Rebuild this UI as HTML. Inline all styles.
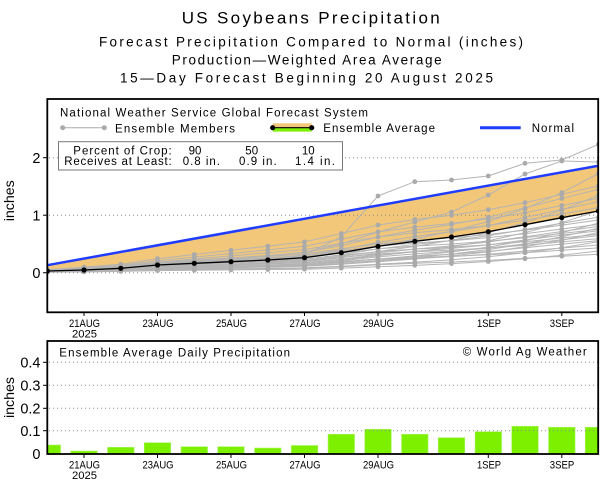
<!DOCTYPE html>
<html><head><meta charset="utf-8"><style>
html,body{margin:0;padding:0;background:#fff;}
svg{display:block;}
text{font-family:"Liberation Sans",sans-serif;fill:#000;}
</style></head><body>
<svg width="615" height="482" viewBox="0 0 615 482" xmlns="http://www.w3.org/2000/svg">
<defs>
<clipPath id="ct"><rect x="47" y="99" width="551.5" height="213.5"/></clipPath>
<clipPath id="cb"><rect x="47" y="341" width="551.5" height="113"/></clipPath>
<marker id="m30" markerUnits="userSpaceOnUse" markerWidth="1" markerHeight="1" refX="0" refY="0" style="overflow:visible"><ellipse rx="2.4" ry="8" fill="#aaa"/></marker>
<marker id="m35" markerUnits="userSpaceOnUse" markerWidth="1" markerHeight="1" refX="0" refY="0" style="overflow:visible"><ellipse rx="2.4" ry="6.86" fill="#aaa"/></marker>
<marker id="m40" markerUnits="userSpaceOnUse" markerWidth="1" markerHeight="1" refX="0" refY="0" style="overflow:visible"><ellipse rx="2.4" ry="6" fill="#aaa"/></marker>
<marker id="m45" markerUnits="userSpaceOnUse" markerWidth="1" markerHeight="1" refX="0" refY="0" style="overflow:visible"><ellipse rx="2.4" ry="5.33" fill="#aaa"/></marker>
<marker id="m50" markerUnits="userSpaceOnUse" markerWidth="1" markerHeight="1" refX="0" refY="0" style="overflow:visible"><ellipse rx="2.4" ry="4.8" fill="#aaa"/></marker>
<marker id="m52" markerUnits="userSpaceOnUse" markerWidth="1" markerHeight="1" refX="0" refY="0" style="overflow:visible"><ellipse rx="2.4" ry="4.62" fill="#aaa"/></marker>
<marker id="m55" markerUnits="userSpaceOnUse" markerWidth="1" markerHeight="1" refX="0" refY="0" style="overflow:visible"><ellipse rx="2.4" ry="4.36" fill="#aaa"/></marker>
<marker id="m60" markerUnits="userSpaceOnUse" markerWidth="1" markerHeight="1" refX="0" refY="0" style="overflow:visible"><ellipse rx="2.4" ry="4" fill="#aaa"/></marker>
<marker id="m62" markerUnits="userSpaceOnUse" markerWidth="1" markerHeight="1" refX="0" refY="0" style="overflow:visible"><ellipse rx="2.4" ry="3.87" fill="#aaa"/></marker>
<marker id="m65" markerUnits="userSpaceOnUse" markerWidth="1" markerHeight="1" refX="0" refY="0" style="overflow:visible"><ellipse rx="2.4" ry="3.69" fill="#aaa"/></marker>
<marker id="m68" markerUnits="userSpaceOnUse" markerWidth="1" markerHeight="1" refX="0" refY="0" style="overflow:visible"><ellipse rx="2.4" ry="3.53" fill="#aaa"/></marker>
<marker id="m70" markerUnits="userSpaceOnUse" markerWidth="1" markerHeight="1" refX="0" refY="0" style="overflow:visible"><ellipse rx="2.4" ry="3.43" fill="#aaa"/></marker>
<marker id="m72" markerUnits="userSpaceOnUse" markerWidth="1" markerHeight="1" refX="0" refY="0" style="overflow:visible"><ellipse rx="2.4" ry="3.33" fill="#aaa"/></marker>
<marker id="m75" markerUnits="userSpaceOnUse" markerWidth="1" markerHeight="1" refX="0" refY="0" style="overflow:visible"><ellipse rx="2.4" ry="3.2" fill="#aaa"/></marker>
<marker id="m78" markerUnits="userSpaceOnUse" markerWidth="1" markerHeight="1" refX="0" refY="0" style="overflow:visible"><ellipse rx="2.4" ry="3.08" fill="#aaa"/></marker>
<marker id="m80" markerUnits="userSpaceOnUse" markerWidth="1" markerHeight="1" refX="0" refY="0" style="overflow:visible"><ellipse rx="2.4" ry="3" fill="#aaa"/></marker>
<marker id="m85" markerUnits="userSpaceOnUse" markerWidth="1" markerHeight="1" refX="0" refY="0" style="overflow:visible"><ellipse rx="2.4" ry="2.82" fill="#aaa"/></marker>
<marker id="m90" markerUnits="userSpaceOnUse" markerWidth="1" markerHeight="1" refX="0" refY="0" style="overflow:visible"><ellipse rx="2.4" ry="2.67" fill="#aaa"/></marker>
<marker id="m100" markerUnits="userSpaceOnUse" markerWidth="1" markerHeight="1" refX="0" refY="0" style="overflow:visible"><ellipse rx="2.4" ry="2.4" fill="#aaa"/></marker>
<marker id="m105" markerUnits="userSpaceOnUse" markerWidth="1" markerHeight="1" refX="0" refY="0" style="overflow:visible"><ellipse rx="2.4" ry="2.29" fill="#aaa"/></marker>
<marker id="m115" markerUnits="userSpaceOnUse" markerWidth="1" markerHeight="1" refX="0" refY="0" style="overflow:visible"><ellipse rx="2.4" ry="2.09" fill="#aaa"/></marker>
<marker id="m120" markerUnits="userSpaceOnUse" markerWidth="1" markerHeight="1" refX="0" refY="0" style="overflow:visible"><ellipse rx="2.4" ry="2" fill="#aaa"/></marker>
<marker id="m125" markerUnits="userSpaceOnUse" markerWidth="1" markerHeight="1" refX="0" refY="0" style="overflow:visible"><ellipse rx="2.4" ry="1.92" fill="#aaa"/></marker>
<marker id="m135" markerUnits="userSpaceOnUse" markerWidth="1" markerHeight="1" refX="0" refY="0" style="overflow:visible"><ellipse rx="2.4" ry="1.78" fill="#aaa"/></marker>
<marker id="m140" markerUnits="userSpaceOnUse" markerWidth="1" markerHeight="1" refX="0" refY="0" style="overflow:visible"><ellipse rx="2.4" ry="1.71" fill="#aaa"/></marker>
<marker id="m160" markerUnits="userSpaceOnUse" markerWidth="1" markerHeight="1" refX="0" refY="0" style="overflow:visible"><ellipse rx="2.4" ry="1.5" fill="#aaa"/></marker>
</defs>

<!-- Titles -->
<text x="181.7" y="23.5" font-size="17" textLength="258" lengthAdjust="spacing">US Soybeans Precipitation</text>
<text x="99" y="46.7" font-size="13.5" textLength="424" lengthAdjust="spacing">Forecast Precipitation Compared to Normal (inches)</text>
<text x="171.7" y="64.3" font-size="13.5" textLength="270" lengthAdjust="spacing">Production—Weighted Area Average</text>
<text x="120" y="82.7" font-size="13.5" textLength="373" lengthAdjust="spacing">15—Day Forecast Beginning 20 August 2025</text>

<!-- TOP PANEL -->
<g clip-path="url(#ct)">
<polygon fill="#f2c77a" points="47.3,265.2 598.5,165.7 598.5,211 561.8,217.7 525,224.7 488.3,231.7 451.5,237 414.8,241.3 378,246.3 341.3,252.7 304.5,257.7 267.8,260 231,261.7 194.3,263.3 157.5,265 120.8,268.3 84,270 47.3,271"/>
<g stroke="#888" stroke-width="1" stroke-dasharray="1 3" fill="none">
<line x1="49" y1="272.7" x2="598" y2="272.7"/>
<line x1="49" y1="215.2" x2="598" y2="215.2"/>
<line x1="49" y1="157.7" x2="598" y2="157.7"/>
</g>
<g fill="none" stroke="#b4b4b4" stroke-width="1">
<g transform="matrix(1 0 0 0.3 0 190.89)"><polyline vector-effect="non-scaling-stroke" marker-start="url(#m30)" marker-mid="url(#m30)" marker-end="url(#m30)" points="47.3,271 84,270 120.8,268.3 157.5,265 194.3,263.3 231,261.7 267.8,260 304.5,257.7 341.3,252.7 378,246.3 414.8,241.3 451.5,237 488.3,231.7 525,224.7 561.8,217.7 598.5,211"/></g>
<g transform="matrix(1 0 0 0.45 0 149.99)"><polyline vector-effect="non-scaling-stroke" marker-start="url(#m45)" marker-mid="url(#m45)" marker-end="url(#m45)" points="47.3,271 84,270 120.8,268.3 157.5,265 194.3,263.3 231,261.7 267.8,260 304.5,257.7 341.3,252.7 378,246.3 414.8,241.3 451.5,237 488.3,231.7 525,224.7 561.8,217.7 598.5,211"/></g>
<g transform="matrix(1 0 0 0.52 0 130.9)"><polyline vector-effect="non-scaling-stroke" marker-start="url(#m52)" marker-mid="url(#m52)" marker-end="url(#m52)" points="47.3,271 84,270 120.8,268.3 157.5,265 194.3,263.3 231,261.7 267.8,260 304.5,257.7 341.3,252.7 378,246.3 414.8,241.3 451.5,237 488.3,231.7 525,224.7 561.8,217.7 598.5,211"/></g>
<g transform="matrix(1 0 0 0.6 0 109.08)"><polyline vector-effect="non-scaling-stroke" marker-start="url(#m60)" marker-mid="url(#m60)" marker-end="url(#m60)" points="47.3,271 84,270 120.8,268.3 157.5,265 194.3,263.3 231,261.7 267.8,260 304.5,257.7 341.3,252.7 378,246.3 414.8,241.3 451.5,237 488.3,231.7 525,224.7 561.8,217.7 598.5,211"/></g>
<g transform="matrix(1 0 0 0.68 0 87.26)"><polyline vector-effect="non-scaling-stroke" marker-start="url(#m68)" marker-mid="url(#m68)" marker-end="url(#m68)" points="47.3,271 84,270 120.8,268.3 157.5,265 194.3,263.3 231,261.7 267.8,260 304.5,257.7 341.3,252.7 378,246.3 414.8,241.3 451.5,237 488.3,231.7 525,224.7 561.8,217.7 598.5,211"/></g>
<g transform="matrix(1 0 0 0.75 0 68.18)"><polyline vector-effect="non-scaling-stroke" marker-start="url(#m75)" marker-mid="url(#m75)" marker-end="url(#m75)" points="47.3,271 84,270 120.8,268.3 157.5,265 194.3,263.3 231,261.7 267.8,260 304.5,257.7 341.3,252.7 378,246.3 414.8,241.3 451.5,237 488.3,231.7 525,224.7 561.8,217.7 598.5,211"/></g>
<g transform="matrix(1 0 0 0.9 0 27.27)"><polyline vector-effect="non-scaling-stroke" marker-start="url(#m90)" marker-mid="url(#m90)" marker-end="url(#m90)" points="47.3,271 84,270 120.8,268.3 157.5,265 194.3,263.3 231,261.7 267.8,260 304.5,257.7 341.3,252.7 378,246.3 414.8,241.3 451.5,237 488.3,231.7 525,224.7 561.8,217.7 598.5,211"/></g>
<g transform="matrix(1 0 0 1.15 0 -40.9)"><polyline vector-effect="non-scaling-stroke" marker-start="url(#m115)" marker-mid="url(#m115)" marker-end="url(#m115)" points="47.3,271 84,270 120.8,268.3 157.5,265 194.3,263.3 231,261.7 267.8,260 304.5,257.7 341.3,252.7 378,246.3 414.8,241.3 451.5,237 488.3,231.7 525,224.7 561.8,217.7 598.5,211"/></g>
<g transform="matrix(1 0 0 1.35 0 -95.45)"><polyline vector-effect="non-scaling-stroke" marker-start="url(#m135)" marker-mid="url(#m135)" marker-end="url(#m135)" points="47.3,271 84,270 120.8,268.3 157.5,265 194.3,263.3 231,261.7 267.8,260 304.5,257.7 341.3,252.7 378,246.3 414.8,241.3 451.5,237 488.3,231.7 525,224.7 561.8,217.7 598.5,211"/></g>
<g transform="matrix(1 0 0 0.35 0 177.26)"><polyline vector-effect="non-scaling-stroke" marker-start="url(#m35)" marker-mid="url(#m35)" marker-end="url(#m35)" points="47.3,270.7 84,269.7 120.8,268.7 157.5,266.7 194.3,265.7 231,264.7 267.8,263.7 304.5,262.7 341.3,259.7 378,255.7 414.8,251.7 451.5,246.7 488.3,240.7 525,232.7 561.8,222.7 598.5,210.7"/></g>
<g transform="matrix(1 0 0 0.5 0 136.35)"><polyline vector-effect="non-scaling-stroke" marker-start="url(#m50)" marker-mid="url(#m50)" marker-end="url(#m50)" points="47.3,270.7 84,269.7 120.8,268.7 157.5,266.7 194.3,265.7 231,264.7 267.8,263.7 304.5,262.7 341.3,259.7 378,255.7 414.8,251.7 451.5,246.7 488.3,240.7 525,232.7 561.8,222.7 598.5,210.7"/></g>
<g transform="matrix(1 0 0 0.65 0 95.45)"><polyline vector-effect="non-scaling-stroke" marker-start="url(#m65)" marker-mid="url(#m65)" marker-end="url(#m65)" points="47.3,270.7 84,269.7 120.8,268.7 157.5,266.7 194.3,265.7 231,264.7 267.8,263.7 304.5,262.7 341.3,259.7 378,255.7 414.8,251.7 451.5,246.7 488.3,240.7 525,232.7 561.8,222.7 598.5,210.7"/></g>
<g transform="matrix(1 0 0 0.72 0 76.36)"><polyline vector-effect="non-scaling-stroke" marker-start="url(#m72)" marker-mid="url(#m72)" marker-end="url(#m72)" points="47.3,270.7 84,269.7 120.8,268.7 157.5,266.7 194.3,265.7 231,264.7 267.8,263.7 304.5,262.7 341.3,259.7 378,255.7 414.8,251.7 451.5,246.7 488.3,240.7 525,232.7 561.8,222.7 598.5,210.7"/></g>
<g transform="matrix(1 0 0 0.8 0 54.54)"><polyline vector-effect="non-scaling-stroke" marker-start="url(#m80)" marker-mid="url(#m80)" marker-end="url(#m80)" points="47.3,270.7 84,269.7 120.8,268.7 157.5,266.7 194.3,265.7 231,264.7 267.8,263.7 304.5,262.7 341.3,259.7 378,255.7 414.8,251.7 451.5,246.7 488.3,240.7 525,232.7 561.8,222.7 598.5,210.7"/></g>
<g transform="matrix(1 0 0 1 0 0)"><polyline vector-effect="non-scaling-stroke" marker-start="url(#m100)" marker-mid="url(#m100)" marker-end="url(#m100)" points="47.3,270.7 84,269.7 120.8,268.7 157.5,266.7 194.3,265.7 231,264.7 267.8,263.7 304.5,262.7 341.3,259.7 378,255.7 414.8,251.7 451.5,246.7 488.3,240.7 525,232.7 561.8,222.7 598.5,210.7"/></g>
<g transform="matrix(1 0 0 1.25 0 -68.18)"><polyline vector-effect="non-scaling-stroke" marker-start="url(#m125)" marker-mid="url(#m125)" marker-end="url(#m125)" points="47.3,270.7 84,269.7 120.8,268.7 157.5,266.7 194.3,265.7 231,264.7 267.8,263.7 304.5,262.7 341.3,259.7 378,255.7 414.8,251.7 451.5,246.7 488.3,240.7 525,232.7 561.8,222.7 598.5,210.7"/></g>
<g transform="matrix(1 0 0 1.6 0 -163.62)"><polyline vector-effect="non-scaling-stroke" marker-start="url(#m160)" marker-mid="url(#m160)" marker-end="url(#m160)" points="47.3,270.7 84,269.7 120.8,268.7 157.5,266.7 194.3,265.7 231,264.7 267.8,263.7 304.5,262.7 341.3,259.7 378,255.7 414.8,251.7 451.5,246.7 488.3,240.7 525,232.7 561.8,222.7 598.5,210.7"/></g>
<g transform="matrix(1 0 0 0.4 0 163.62)"><polyline vector-effect="non-scaling-stroke" marker-start="url(#m40)" marker-mid="url(#m40)" marker-end="url(#m40)" points="47.3,270.7 84,268.7 120.8,266.7 157.5,262.7 194.3,259.7 231,256.7 267.8,253.7 304.5,250.7 341.3,244.7 378,238.7 414.8,234.7 451.5,231.7 488.3,227.7 525,222.7 561.8,216.7 598.5,210.7"/></g>
<g transform="matrix(1 0 0 0.55 0 122.72)"><polyline vector-effect="non-scaling-stroke" marker-start="url(#m55)" marker-mid="url(#m55)" marker-end="url(#m55)" points="47.3,270.7 84,268.7 120.8,266.7 157.5,262.7 194.3,259.7 231,256.7 267.8,253.7 304.5,250.7 341.3,244.7 378,238.7 414.8,234.7 451.5,231.7 488.3,227.7 525,222.7 561.8,216.7 598.5,210.7"/></g>
<g transform="matrix(1 0 0 0.62 0 103.63)"><polyline vector-effect="non-scaling-stroke" marker-start="url(#m62)" marker-mid="url(#m62)" marker-end="url(#m62)" points="47.3,270.7 84,268.7 120.8,266.7 157.5,262.7 194.3,259.7 231,256.7 267.8,253.7 304.5,250.7 341.3,244.7 378,238.7 414.8,234.7 451.5,231.7 488.3,227.7 525,222.7 561.8,216.7 598.5,210.7"/></g>
<g transform="matrix(1 0 0 0.7 0 81.81)"><polyline vector-effect="non-scaling-stroke" marker-start="url(#m70)" marker-mid="url(#m70)" marker-end="url(#m70)" points="47.3,270.7 84,268.7 120.8,266.7 157.5,262.7 194.3,259.7 231,256.7 267.8,253.7 304.5,250.7 341.3,244.7 378,238.7 414.8,234.7 451.5,231.7 488.3,227.7 525,222.7 561.8,216.7 598.5,210.7"/></g>
<g transform="matrix(1 0 0 0.78 0 59.99)"><polyline vector-effect="non-scaling-stroke" marker-start="url(#m78)" marker-mid="url(#m78)" marker-end="url(#m78)" points="47.3,270.7 84,268.7 120.8,266.7 157.5,262.7 194.3,259.7 231,256.7 267.8,253.7 304.5,250.7 341.3,244.7 378,238.7 414.8,234.7 451.5,231.7 488.3,227.7 525,222.7 561.8,216.7 598.5,210.7"/></g>
<g transform="matrix(1 0 0 0.85 0 40.9)"><polyline vector-effect="non-scaling-stroke" marker-start="url(#m85)" marker-mid="url(#m85)" marker-end="url(#m85)" points="47.3,270.7 84,268.7 120.8,266.7 157.5,262.7 194.3,259.7 231,256.7 267.8,253.7 304.5,250.7 341.3,244.7 378,238.7 414.8,234.7 451.5,231.7 488.3,227.7 525,222.7 561.8,216.7 598.5,210.7"/></g>
<g transform="matrix(1 0 0 1.05 0 -13.64)"><polyline vector-effect="non-scaling-stroke" marker-start="url(#m105)" marker-mid="url(#m105)" marker-end="url(#m105)" points="47.3,270.7 84,268.7 120.8,266.7 157.5,262.7 194.3,259.7 231,256.7 267.8,253.7 304.5,250.7 341.3,244.7 378,238.7 414.8,234.7 451.5,231.7 488.3,227.7 525,222.7 561.8,216.7 598.5,210.7"/></g>
<g transform="matrix(1 0 0 1.2 0 -54.54)"><polyline vector-effect="non-scaling-stroke" marker-start="url(#m120)" marker-mid="url(#m120)" marker-end="url(#m120)" points="47.3,270.7 84,268.7 120.8,266.7 157.5,262.7 194.3,259.7 231,256.7 267.8,253.7 304.5,250.7 341.3,244.7 378,238.7 414.8,234.7 451.5,231.7 488.3,227.7 525,222.7 561.8,216.7 598.5,210.7"/></g>
<g transform="matrix(1 0 0 1.4 0 -109.08)"><polyline vector-effect="non-scaling-stroke" marker-start="url(#m140)" marker-mid="url(#m140)" marker-end="url(#m140)" points="47.3,270.7 84,268.7 120.8,266.7 157.5,262.7 194.3,259.7 231,256.7 267.8,253.7 304.5,250.7 341.3,244.7 378,238.7 414.8,234.7 451.5,231.7 488.3,227.7 525,222.7 561.8,216.7 598.5,210.7"/></g>
<polyline marker-start="url(#m100)" marker-mid="url(#m100)" marker-end="url(#m100)" points="47.3,271 84,270 120.8,268 157.5,265 194.3,263 231,261 267.8,259 304.5,255 341.3,236.7 378,196 414.8,181.7 451.5,180 488.3,176 525,163.3 561.8,160 598.5,144.3"/>
<polyline marker-start="url(#m100)" marker-mid="url(#m100)" marker-end="url(#m100)" points="47.3,271 84,269 120.8,267 157.5,263 194.3,261 231,259 267.8,256 304.5,252 341.3,244 378,232 414.8,222 451.5,212 488.3,195 525,174 561.8,161 598.5,162"/>
</g>
<polyline fill="none" stroke="#000" stroke-width="1.3" points="47.3,271 84,270 120.8,268.3 157.5,265 194.3,263.3 231,261.7 267.8,260 304.5,257.7 341.3,252.7 378,246.3 414.8,241.3 451.5,237 488.3,231.7 525,224.7 561.8,217.7 598.5,211"/>
<g fill="#000">
<circle cx="47.3" cy="271" r="2.6"/><circle cx="84" cy="270" r="2.6"/><circle cx="120.8" cy="268.3" r="2.6"/><circle cx="157.5" cy="265" r="2.6"/><circle cx="194.3" cy="263.3" r="2.6"/><circle cx="231" cy="261.7" r="2.6"/><circle cx="267.8" cy="260" r="2.6"/><circle cx="304.5" cy="257.7" r="2.6"/><circle cx="341.3" cy="252.7" r="2.6"/><circle cx="378" cy="246.3" r="2.6"/><circle cx="414.8" cy="241.3" r="2.6"/><circle cx="451.5" cy="237" r="2.6"/><circle cx="488.3" cy="231.7" r="2.6"/><circle cx="525" cy="224.7" r="2.6"/><circle cx="561.8" cy="217.7" r="2.6"/><circle cx="598.5" cy="211" r="2.6"/>
</g>
<line x1="47.3" y1="265.2" x2="598.5" y2="165.7" stroke="#1f3cff" stroke-width="2.5"/>
</g>

<!-- top legend -->
<text x="60" y="116.7" font-size="11.5" textLength="308" lengthAdjust="spacing">National Weather Service Global Forecast System</text>
<line x1="62.7" y1="127.7" x2="104.3" y2="127.7" stroke="#aaa" stroke-width="1"/>
<circle cx="62.7" cy="127.7" r="2.5" fill="#aaa"/><circle cx="104.3" cy="127.7" r="2.5" fill="#aaa"/>
<text x="115" y="132.3" font-size="11.5" textLength="120" lengthAdjust="spacing">Ensemble Members</text>
<rect x="272.7" y="123.3" width="39" height="4.2" fill="#f2c77a"/>
<rect x="272.7" y="128" width="39" height="3.6" fill="#7df000"/>
<line x1="272.7" y1="127.7" x2="311.7" y2="127.7" stroke="#000" stroke-width="1.2"/>
<circle cx="272.7" cy="127.7" r="2.6" fill="#000"/><circle cx="311.7" cy="127.7" r="2.6" fill="#000"/>
<text x="323.3" y="132" font-size="11.5" textLength="111.7" lengthAdjust="spacing">Ensemble Average</text>
<line x1="480" y1="127.7" x2="520.7" y2="127.7" stroke="#1f3cff" stroke-width="3"/>
<text x="531.7" y="132" font-size="11.5" textLength="42.3" lengthAdjust="spacing">Normal</text>

<rect x="58.5" y="141.7" width="284" height="28.3" fill="#fff" stroke="#777" stroke-width="1"/>
<text x="73.3" y="154.3" font-size="11.5" textLength="98.4" lengthAdjust="spacing">Percent of Crop:</text>
<text x="195" y="154.3" font-size="11.5" text-anchor="middle">90</text>
<text x="251.7" y="154.3" font-size="11.5" text-anchor="middle">50</text>
<text x="308.3" y="154.3" font-size="11.5" text-anchor="middle">10</text>
<text x="64.3" y="165" font-size="11.5" textLength="107.4" lengthAdjust="spacing">Receives at Least:</text>
<text x="182.7" y="165" font-size="11.5" textLength="37.3" lengthAdjust="spacing">0.8 in.</text>
<text x="239" y="165" font-size="11.5" textLength="37.7" lengthAdjust="spacing">0.9 in.</text>
<text x="295" y="165" font-size="11.5" textLength="40" lengthAdjust="spacing">1.4 in.</text>

<!-- top axes -->
<g font-size="14.5" text-anchor="end">
<text x="40.5" y="278">0</text>
<text x="40.5" y="220.5">1</text>
<text x="40.5" y="163">2</text>
</g>
<g stroke="#000" stroke-width="1">
<line x1="43" y1="272.7" x2="47" y2="272.7"/><line x1="43" y1="215.2" x2="47" y2="215.2"/><line x1="43" y1="157.7" x2="47" y2="157.7"/>
</g>
<text transform="translate(14,200.8) rotate(-90)" font-size="14" text-anchor="middle" textLength="41" lengthAdjust="spacingAndGlyphs">inches</text>
<g stroke="#000" stroke-width="1">
<line x1="84" y1="312" x2="84" y2="316"/><line x1="157.5" y1="312" x2="157.5" y2="316"/><line x1="231" y1="312" x2="231" y2="316"/><line x1="304.5" y1="312" x2="304.5" y2="316"/><line x1="378" y1="312" x2="378" y2="316"/><line x1="488.3" y1="312" x2="488.3" y2="316"/><line x1="561.8" y1="312" x2="561.8" y2="316"/>
</g>
<g font-size="11" text-anchor="middle">
<text x="84.5" y="327" textLength="31" lengthAdjust="spacingAndGlyphs">21AUG</text>
<text x="84.5" y="337.5" textLength="25" lengthAdjust="spacingAndGlyphs">2025</text>
<text x="158" y="327" textLength="31" lengthAdjust="spacingAndGlyphs">23AUG</text>
<text x="231.5" y="327" textLength="31" lengthAdjust="spacingAndGlyphs">25AUG</text>
<text x="305" y="327" textLength="31" lengthAdjust="spacingAndGlyphs">27AUG</text>
<text x="378.5" y="327" textLength="31" lengthAdjust="spacingAndGlyphs">29AUG</text>
<text x="489" y="327" textLength="24" lengthAdjust="spacingAndGlyphs">1SEP</text>
<text x="562" y="327" textLength="24.5" lengthAdjust="spacingAndGlyphs">3SEP</text>
</g>
<rect x="47.3" y="99" width="550.9" height="213.3" fill="none" stroke="#000" stroke-width="1.8"/>

<!-- BOTTOM PANEL -->
<g clip-path="url(#cb)">
<g fill="#7df000" stroke="#a8f560" stroke-width="0.6">
<rect x="34.05" y="445" width="26.5" height="9"/>
<rect x="70.75" y="451" width="26.5" height="3"/>
<rect x="107.55" y="447.3" width="26.5" height="6.7"/>
<rect x="144.25" y="442.7" width="26.5" height="11.3"/>
<rect x="181.05" y="446.7" width="26.5" height="7.3"/>
<rect x="217.75" y="446.7" width="26.5" height="7.3"/>
<rect x="254.55" y="448" width="26.5" height="6"/>
<rect x="291.25" y="445.5" width="26.5" height="8.5"/>
<rect x="328.05" y="434.3" width="26.5" height="19.7"/>
<rect x="364.75" y="429.3" width="26.5" height="24.7"/>
<rect x="401.55" y="434.3" width="26.5" height="19.7"/>
<rect x="438.25" y="437.7" width="26.5" height="16.3"/>
<rect x="475.05" y="431.7" width="26.5" height="22.3"/>
<rect x="511.75" y="426.3" width="26.5" height="27.7"/>
<rect x="548.55" y="427.3" width="26.5" height="26.7"/>
<rect x="585.25" y="427.3" width="26.5" height="26.7"/>
</g>
<g stroke="#888" stroke-width="1" stroke-dasharray="1 3" fill="none">
<line x1="49" y1="362.3" x2="598" y2="362.3"/>
<line x1="49" y1="385.3" x2="598" y2="385.3"/>
<line x1="49" y1="408.3" x2="598" y2="408.3"/>
<line x1="49" y1="430.7" x2="598" y2="430.7"/>
</g>
</g>
<text x="59.3" y="356.7" font-size="11.5" textLength="230.7" lengthAdjust="spacing">Ensemble Average Daily Precipitation</text>
<text x="462.7" y="355.7" font-size="11.5" textLength="124" lengthAdjust="spacing">© World Ag Weather</text>
<g font-size="14.5" text-anchor="end">
<text x="40.5" y="459">0</text>
<text x="40.5" y="436">0.1</text>
<text x="40.5" y="413.5">0.2</text>
<text x="40.5" y="390.5">0.3</text>
<text x="40.5" y="367.5">0.4</text>
</g>
<g stroke="#000" stroke-width="1">
<line x1="43" y1="430.7" x2="47" y2="430.7"/><line x1="43" y1="408.3" x2="47" y2="408.3"/><line x1="43" y1="385.3" x2="47" y2="385.3"/><line x1="43" y1="362.3" x2="47" y2="362.3"/>
</g>
<text transform="translate(14,397.5) rotate(-90)" font-size="14" text-anchor="middle" textLength="41" lengthAdjust="spacingAndGlyphs">inches</text>
<g stroke="#000" stroke-width="1">
<line x1="84" y1="454" x2="84" y2="458"/><line x1="157.5" y1="454" x2="157.5" y2="458"/><line x1="231" y1="454" x2="231" y2="458"/><line x1="304.5" y1="454" x2="304.5" y2="458"/><line x1="378" y1="454" x2="378" y2="458"/><line x1="488.3" y1="454" x2="488.3" y2="458"/><line x1="561.8" y1="454" x2="561.8" y2="458"/>
</g>
<g font-size="11" text-anchor="middle">
<text x="84.5" y="468.5" textLength="31" lengthAdjust="spacingAndGlyphs">21AUG</text>
<text x="84.5" y="479" textLength="25" lengthAdjust="spacingAndGlyphs">2025</text>
<text x="158" y="468.5" textLength="31" lengthAdjust="spacingAndGlyphs">23AUG</text>
<text x="231.5" y="468.5" textLength="31" lengthAdjust="spacingAndGlyphs">25AUG</text>
<text x="305" y="468.5" textLength="31" lengthAdjust="spacingAndGlyphs">27AUG</text>
<text x="378.5" y="468.5" textLength="31" lengthAdjust="spacingAndGlyphs">29AUG</text>
<text x="489" y="468.5" textLength="24" lengthAdjust="spacingAndGlyphs">1SEP</text>
<text x="562" y="468.5" textLength="24.5" lengthAdjust="spacingAndGlyphs">3SEP</text>
</g>
<rect x="47.3" y="341" width="550.9" height="113" fill="none" stroke="#000" stroke-width="1.8"/>
</svg>
</body></html>
